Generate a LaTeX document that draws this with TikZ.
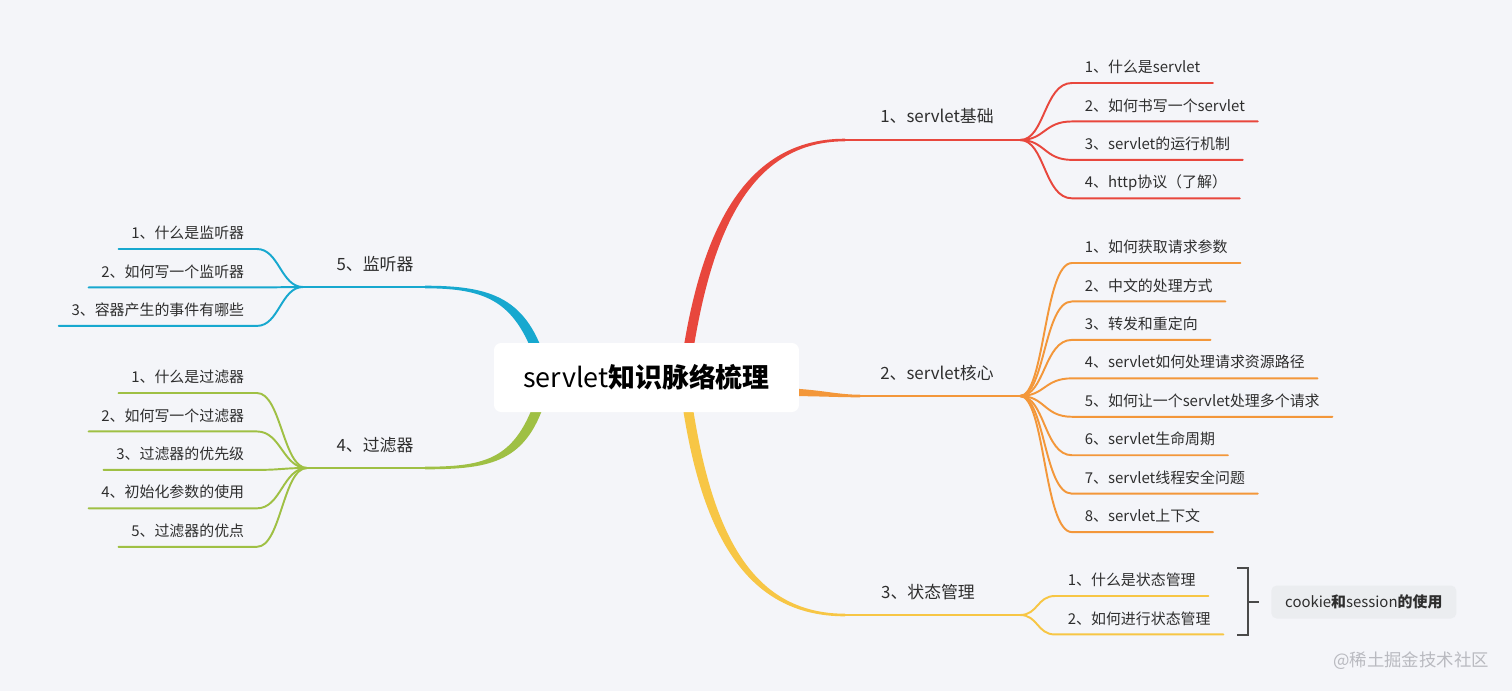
\documentclass[tikz,border=0pt]{standalone}
\usepackage{fontspec}
\setmainfont{Noto Sans CJK SC}
\usetikzlibrary{calc,positioning}
\definecolor{PaperBg}{HTML}{F4F5F9}
\definecolor{BranchRed}{HTML}{E8473D}
\definecolor{BranchOrange}{HTML}{F3973A}
\definecolor{BranchYellow}{HTML}{F7C645}
\definecolor{BranchBlue}{HTML}{17A8CF}
\definecolor{BranchGreen}{HTML}{9FC044}
\definecolor{InkGray}{HTML}{2E2E2E}
\definecolor{BracketGray}{HTML}{4A4A4A}
\definecolor{NoteFill}{HTML}{EBEDF0}
\definecolor{MarkGray}{HTML}{B9BAC0}

\begin{document}
\begin{tikzpicture}[x=0.02cm,y=-0.02cm,
    node distance=0.155cm,
    titlebox/.style={fill=white,rounded corners=4pt,minimum width=6.1cm,minimum height=1.38cm,
    font=\fontsize{15.3}{18}\selectfont,text=black},
    topic/.style={font=\fontsize{9.6}{12}\selectfont,text=InkGray,inner sep=0pt},
    leaf/.style={font=\fontsize{8.5}{10}\selectfont,text=InkGray,inner xsep=0.25cm,inner ysep=0.15cm,
    text height=0.25cm,text depth=0.05cm},
    twig/.style={line width=1.1pt,line cap=round},
    brace/.style={line width=1.1pt,BracketGray},
    note/.style={fill=NoteFill,rounded corners=3pt,minimum width=3.7cm,minimum height=0.66cm,
    font=\fontsize{8.5}{10}\selectfont,text=InkGray}]
  \fill[PaperBg] (0,0) rectangle (1512,691);
  \useasboundingbox (0,0) rectangle (1512,691);

  % trunk ends and junctions
  \coordinate (rs) at (686,365);  \coordinate (re) at (845,140);  \coordinate (rj) at (1020,140);
  \coordinate (os) at (780,392);  \coordinate (oe) at (860,396);  \coordinate (oj) at (1020,396);
  \coordinate (ys) at (686,395);  \coordinate (ye) at (845,615);  \coordinate (yj) at (1020,615);
  \coordinate (bs) at (542,365);  \coordinate (be) at (425,287);  \coordinate (bj) at (303,287);
  \coordinate (gs) at (542,395);  \coordinate (ge) at (425,468);  \coordinate (gj) at (307,468);

  % tapered trunks
  \fill[BranchRed] ($(rs)+(-5,0)$) .. controls +(19,-135) and +(-100,0) .. ($(re)+(0,-1.3)$)
    -- ($(re)+(0,1.3)$) .. controls +(-96,0) and +(19,-131) .. ($(rs)+(5,0)$) -- cycle;
  \fill[BranchYellow] ($(ys)+(-5,0)$) .. controls +(19,137) and +(-100,0) .. ($(ye)+(0,1.3)$)
    -- ($(ye)+(0,-1.3)$) .. controls +(-96,0) and +(19,133) .. ($(ys)+(5,0)$) -- cycle;
  \fill[BranchBlue] ($(bs)+(5,0)$) .. controls +(-19,-67) and +(67,0) .. ($(be)+(0,-1.3)$)
    -- ($(be)+(0,1.3)$) .. controls +(63,0) and +(-21,-63) .. ($(bs)+(-5,0)$) -- cycle;
  \fill[BranchGreen] ($(gs)+(5,0)$) .. controls +(-19,67) and +(67,0) .. ($(ge)+(0,1.3)$)
    -- ($(ge)+(0,-1.3)$) .. controls +(63,0) and +(-21,63) .. ($(gs)+(-5,0)$) -- cycle;
  \fill[BranchOrange] ($(os)+(0,-4)$) .. controls +(40,1) and +(-25,0) .. ($(oe)+(0,-1.3)$)
    -- ($(oe)+(0,1.3)$) .. controls +(-25,0) and +(40,0) .. ($(os)+(0,4)$) -- cycle;
  \draw[twig,BranchRed] (re) -- (rj);
  \draw[twig,BranchOrange] (oe) -- (oj);
  \draw[twig,BranchYellow] (ye) -- (yj);
  \draw[twig,BranchBlue] (be) -- (bj);
  \draw[twig,BranchGreen] (ge) -- (gj);

  \node[titlebox] (title) at (646.5,377.5) {servlet\textbf{知识脉络梳理}};

  % topics
  \node[topic] (basics) at (937,116) {1、servlet基础};
  \node[topic] (core) at (937,373) {2、servlet核心};
  \node[topic] (state) at (928,592) {3、状态管理};
  \node[topic] (listener) at (375,264) {5、监听器};
  \node[topic] (filter) at (375,445) {4、过滤器};

  % servlet basics
  \node[leaf,anchor=south west] (r1) at (1072,83) {1、什么是servlet};
  \node[leaf,below=of r1.south west,anchor=north west] (r2) {2、如何书写一个servlet};
  \node[leaf,below=of r2.south west,anchor=north west] (r3) {3、servlet的运行机制};
  \node[leaf,below=of r3.south west,anchor=north west] (r4) {4、http协议（了解）};
  \draw[twig,BranchRed] (rj) .. controls +(25,0) and +(-28,0) .. (r1.south west) -- (r1.south east);
  \draw[twig,BranchRed] (rj) .. controls +(25,0) and +(-28,0) .. (r2.south west) -- (r2.south east);
  \draw[twig,BranchRed] (rj) .. controls +(25,0) and +(-28,0) .. (r3.south west) -- (r3.south east);
  \draw[twig,BranchRed] (rj) .. controls +(25,0) and +(-28,0) .. (r4.south west) -- (r4.south east);

  % servlet core
  \node[leaf,anchor=south west] (o1) at (1072,263) {1、如何获取请求参数};
  \node[leaf,below=of o1.south west,anchor=north west] (o2) {2、中文的处理方式};
  \node[leaf,below=of o2.south west,anchor=north west] (o3) {3、转发和重定向};
  \node[leaf,below=of o3.south west,anchor=north west] (o4) {4、servlet如何处理请求资源路径};
  \node[leaf,below=of o4.south west,anchor=north west] (o5) {5、如何让一个servlet处理多个请求};
  \node[leaf,below=of o5.south west,anchor=north west] (o6) {6、servlet生命周期};
  \node[leaf,below=of o6.south west,anchor=north west] (o7) {7、servlet线程安全问题};
  \node[leaf,below=of o7.south west,anchor=north west] (o8) {8、servlet上下文};
  \draw[twig,BranchOrange] (oj) .. controls +(25,0) and +(-28,0) .. (o1.south west) -- (o1.south east);
  \draw[twig,BranchOrange] (oj) .. controls +(25,0) and +(-28,0) .. (o2.south west) -- (o2.south east);
  \draw[twig,BranchOrange] (oj) .. controls +(25,0) and +(-28,0) .. (o3.south west) -- (o3.south east);
  \draw[twig,BranchOrange] (oj) .. controls +(25,0) and +(-28,0) .. (o4.south west) -- (o4.south east);
  \draw[twig,BranchOrange] (oj) .. controls +(25,0) and +(-28,0) .. (o5.south west) -- (o5.south east);
  \draw[twig,BranchOrange] (oj) .. controls +(25,0) and +(-28,0) .. (o6.south west) -- (o6.south east);
  \draw[twig,BranchOrange] (oj) .. controls +(25,0) and +(-28,0) .. (o7.south west) -- (o7.south east);
  \draw[twig,BranchOrange] (oj) .. controls +(25,0) and +(-28,0) .. (o8.south west) -- (o8.south east);

  % state management
  \node[leaf,anchor=south west] (y1) at (1055,596) {1、什么是状态管理};
  \node[leaf,below=of y1.south west,anchor=north west] (y2) {2、如何进行状态管理};
  \draw[twig,BranchYellow] (yj) .. controls +(18,0) and +(-18,0) .. (y1.south west) -- (y1.south east);
  \draw[twig,BranchYellow] (yj) .. controls +(18,0) and +(-18,0) .. (y2.south west) -- (y2.south east);
  \coordinate (k1) at (1237,568); \coordinate (k2) at (1248,568);
  \coordinate (k3) at (1248,635); \coordinate (k4) at (1237,635);
  \coordinate (km) at (1248,602); \coordinate (kt) at (1259,602);
  \draw[brace] (k1) -- (k2) -- (k3) -- (k4);
  \draw[brace] (km) -- (kt);
  \node[note,right=0.24cm of kt] (cookie) {cookie\textbf{和}session\textbf{的使用}};

  % listener
  \node[leaf,anchor=south east] (b1) at (257,249) {1、什么是监听器};
  \node[leaf,below=of b1.south east,anchor=north east] (b2) {2、如何写一个监听器};
  \node[leaf,below=of b2.south east,anchor=north east] (b3) {3、容器产生的事件有哪些};
  \draw[twig,BranchBlue] (bj) .. controls +(-22,0) and +(22,0) .. (b1.south east) -- (b1.south west);
  \draw[twig,BranchBlue] (bj) .. controls +(-22,0) and +(22,0) .. (b2.south east) -- (b2.south west);
  \draw[twig,BranchBlue] (bj) .. controls +(-22,0) and +(22,0) .. (b3.south east) -- (b3.south west);

  % filter
  \node[leaf,anchor=south east] (g1) at (257,393) {1、什么是过滤器};
  \node[leaf,below=of g1.south east,anchor=north east] (g2) {2、如何写一个过滤器};
  \node[leaf,below=of g2.south east,anchor=north east] (g3) {3、过滤器的优先级};
  \node[leaf,below=of g3.south east,anchor=north east] (g4) {4、初始化参数的使用};
  \node[leaf,below=of g4.south east,anchor=north east] (g5) {5、过滤器的优点};
  \draw[twig,BranchGreen] (gj) .. controls +(-24,0) and +(24,0) .. (g1.south east) -- (g1.south west);
  \draw[twig,BranchGreen] (gj) .. controls +(-24,0) and +(24,0) .. (g2.south east) -- (g2.south west);
  \draw[twig,BranchGreen] (gj) .. controls +(-24,0) and +(24,0) .. (g3.south east) -- (g3.south west);
  \draw[twig,BranchGreen] (gj) .. controls +(-24,0) and +(24,0) .. (g4.south east) -- (g4.south west);
  \draw[twig,BranchGreen] (gj) .. controls +(-24,0) and +(24,0) .. (g5.south east) -- (g5.south west);

  \node[font=\fontsize{9.9}{12}\selectfont,text=MarkGray] (mark) at (1411,661) {@稀土掘金技术社区};
\end{tikzpicture}
\end{document}
